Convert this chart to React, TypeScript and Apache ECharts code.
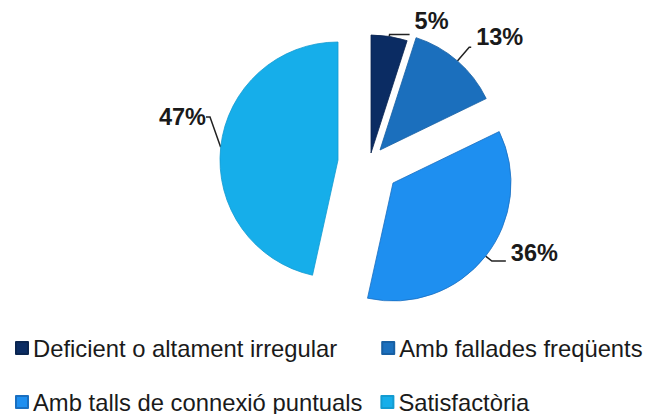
import React, { useEffect, useRef } from "react";
import * as echarts from "echarts";

const categories = [
  "Deficient o altament irregular",
  "Amb fallades freqüents",
  "Amb talls de connexió puntuals",
  "Satisfactòria",
];
const values = [5, 13, 36, 47];
const colors = ["#0b2c63", "#1b6fbd", "#1e8ff0", "#16aeea"];
const borders = ["#0a2550", "#175fa3", "#1a6fc0", "#139bd0"];

// per-slice explosion: pixel centre of each slice's apex
const centers = [
  [371, 153],
  [380, 150],
  [393, 183],
  [338, 160],
];
const lineLengths = [
  [2, 20],
  [18, 2],
  [8, 14],
  [6, 4],
];
// extra blank line height below the label, lifting the text above its line end
const lift = [26, 20, 16, 0];

export default function App() {
  const ref = useRef<HTMLDivElement>(null);
  useEffect(() => {
    document.body.style.margin = "0";
    const chart = echarts.init(ref.current!, null, { renderer: "svg" });
    const labelFont = {
      fontSize: 23.5,
      fontWeight: "bold",
      fontFamily: "Liberation Sans",
      color: "#1a1a1a",
    };
    const series = values.map((_, i) => ({
      type: "pie",
      center: centers[i],
      radius: 118,
      startAngle: 90,
      clockwise: true,
      silent: true,
      avoidLabelOverlap: false,
      emphasis: { disabled: true },
      label: {
        position: "outside",
        formatter: lift[i] > 0 ? "{v|{c}%}\n{s| }" : "{c}%",
        ...labelFont,
        rich: {
          v: { ...labelFont, lineHeight: 25 },
          s: { fontSize: 1, lineHeight: lift[i] },
        },
      },
      labelLine: {
        length: lineLengths[i][0],
        length2: lineLengths[i][1],
        lineStyle: { color: "#222", width: 1.5 },
      },
      labelLayout: i === 3 ? { x: 206, y: 117 } : undefined,
      data: values.map((v, j) =>
        j === i
          ? {
              name: categories[j],
              value: v,
              itemStyle: { color: colors[j], borderColor: borders[j], borderWidth: 0.8 },
            }
          : {
              name: "__" + i + "_" + j,
              value: v,
              itemStyle: { color: "rgba(0,0,0,0)" },
              label: { show: false },
              labelLine: { show: false },
            }
      ),
    }));
    const legendText = {
      fontSize: 23.8,
      fontFamily: "Liberation Sans",
      color: "#1a1a1a",
    };
    chart.setOption({
      animation: false,
      legend: [
        {
          data: categories.slice(0, 2),
          left: 15,
          top: 336,
          padding: 0,
          itemWidth: 12,
          itemHeight: 12,
          itemGap: 44,
          icon: "rect",
          selectedMode: false,
          textStyle: legendText,
        },
        {
          data: categories.slice(2),
          left: 15,
          top: 390,
          padding: 0,
          itemWidth: 12,
          itemHeight: 12,
          itemGap: 18,
          icon: "rect",
          selectedMode: false,
          textStyle: legendText,
        },
      ],
      series,
    });
    return () => chart.dispose();
  }, []);
  return <div ref={ref} style={{ width: 646, height: 414 }} />;
}
